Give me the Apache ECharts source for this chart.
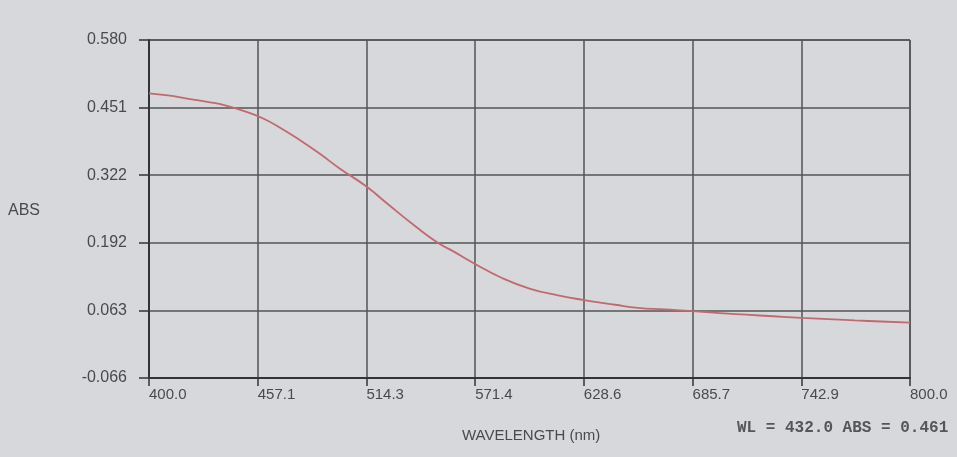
<!DOCTYPE html>
<html>
<head>
<meta charset="utf-8">
<script src="https://cdn.jsdelivr.net/npm/echarts@6/dist/echarts.min.js"></script>
<style>
html,body{margin:0;padding:0;background:#d7d8dc;}
#chart{width:957px;height:457px;}
</style>
</head>
<body>
<div id="chart"></div>
<script>
// Wavelength (nm) and absorbance values
const wavelengths = [400, 410, 420, 432, 440, 450, 460, 470, 480, 490, 500, 514.3, 525, 540, 552, 560, 571.4, 585, 600, 615, 628.6, 645, 657, 671, 685.7, 700, 714, 728, 742.9, 760, 771, 785, 800];
const absorbance  = [0.478, 0.474, 0.468, 0.461, 0.455, 0.444, 0.430, 0.410, 0.387, 0.362, 0.335, 0.300, 0.268, 0.224, 0.192, 0.176, 0.152, 0.126, 0.105, 0.092, 0.083, 0.074, 0.068, 0.065, 0.062, 0.058, 0.055, 0.052, 0.049, 0.046, 0.044, 0.042, 0.040];
const yTickLabels = ['-0.066', '0.063', '0.192', '0.322', '0.451', '0.580'];
const xTickLabels = ['400.0', '457.1', '514.3', '571.4', '628.6', '685.7', '742.9', '800.0'];
const readout = 'WL = 432.0 ABS = 0.461';

const chart = echarts.init(document.getElementById('chart'), null, {renderer: 'canvas'});
const yMin = -0.066, yMax = 0.580, yStep = (yMax - yMin) / 5;
const xMin = 400, xMax = 800, xStep = (xMax - xMin) / 7;
const font = '"Liberation Sans", Arial, sans-serif';

chart.setOption({
  backgroundColor: '#d7d8dc',
  animation: false,
  grid: {left: 149, right: 47, top: 40, bottom: 79},
  xAxis: {
    type: 'value', min: xMin, max: xMax, interval: xStep,
    axisLine: {show: true, onZero: false, lineStyle: {color: '#333', width: 2}},
    axisTick: {show: true, length: 8, inside: false, lineStyle: {color: '#333', width: 1.5}},
    axisLabel: {
      margin: 9, color: '#4a4a4e', fontSize: 15, fontFamily: font, align: 'left',
      formatter: (v) => xTickLabels[Math.round((v - xMin) / xStep)]
    },
    splitLine: {show: true, lineStyle: {color: '#555', width: 1.5}}
  },
  yAxis: {
    type: 'value', min: yMin, max: yMax, interval: yStep,
    axisLine: {show: true, onZero: false, lineStyle: {color: '#333', width: 2}},
    axisTick: {show: true, length: 10, inside: false, lineStyle: {color: '#333', width: 1.5}},
    axisLabel: {
      margin: 22, color: '#4a4a4e', fontSize: 16, fontFamily: font,
      formatter: (v) => yTickLabels[Math.round((v - yMin) / yStep)]
    },
    splitLine: {show: true, lineStyle: {color: '#555', width: 1.5}}
  },
  graphic: [
    {type: 'text', left: 8, top: 203, style: {text: 'ABS', fill: '#4a4a4e', font: '16px ' + font}},
    {type: 'text', left: 462, top: 428, style: {text: 'WAVELENGTH (nm)', fill: '#4a4a4e', font: '15px ' + font}},
    {type: 'text', left: 737, top: 420, style: {text: readout, fill: '#55555a', font: 'bold 16px "Liberation Mono", "DejaVu Sans Mono", monospace'}}
  ],
  series: [{
    type: 'line',
    data: wavelengths.map((w, i) => [w, absorbance[i]]),
    smooth: true,
    showSymbol: false,
    lineStyle: {color: '#c06a70', width: 1.8}
  }]
});
</script>
</body>
</html>
